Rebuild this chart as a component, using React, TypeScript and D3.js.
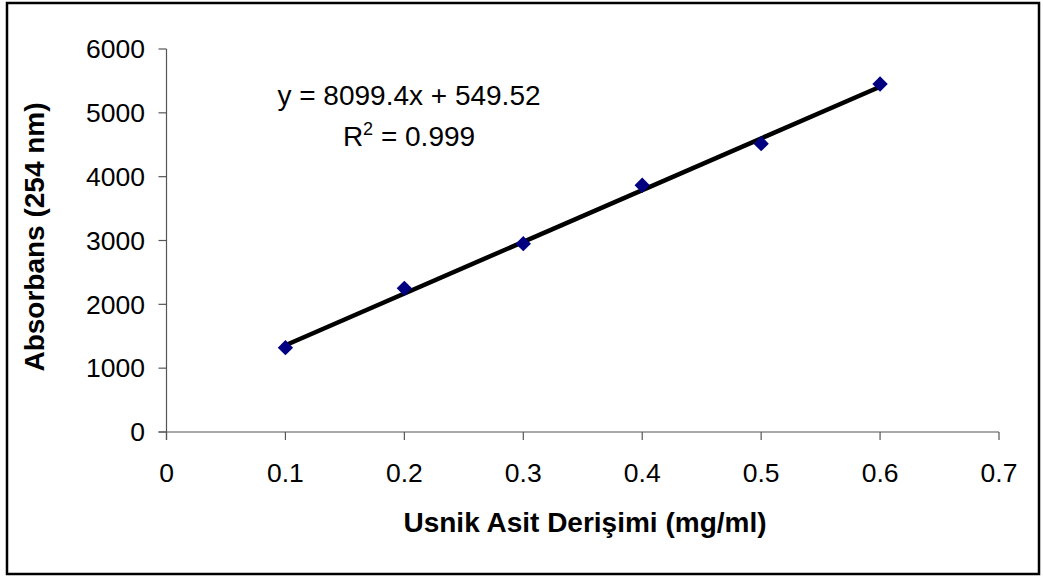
import React from "react";
import * as d3 from "d3";

const concentrations = [0.1, 0.2, 0.3, 0.4, 0.5, 0.6];
const absorbances = [1321, 2251, 2950, 3865, 4517, 5452];
const xTicks = [0, 0.1, 0.2, 0.3, 0.4, 0.5, 0.6, 0.7];
const yTicks = [0, 1000, 2000, 3000, 4000, 5000, 6000];
const slope = 8099.4;
const intercept = 549.52;
const equationLabel = "y = 8099.4x + 549.52";
const r2Value = "0.999";
const xTitle = "Usnik Asit Derişimi (mg/ml)";
const yTitle = "Absorbans (254 nm)";

const W = 1043;
const H = 578;
const FONT = "'Liberation Sans', Arial, Helvetica, sans-serif";

export default function App() {
  const x = d3.scaleLinear().domain([0, 0.7]).range([166.5, 999]);
  const y = d3.scaleLinear().domain([0, 6000]).range([432, 49]);

  const fitX = [concentrations[0], concentrations[concentrations.length - 1]];
  const fitLine = d3
    .line<number>()
    .x((d) => x(d))
    .y((d) => y(slope * d + intercept));

  const diamond = d3.symbol().type(d3.symbolDiamond2).size(150)();

  return (
    <svg
      width={W}
      height={H}
      style={{ position: "absolute", left: 0, top: 0, background: "#fff" }}
      fontFamily={FONT}
    >
      <rect x={7} y={3} width={1032} height={571} fill="#fff" stroke="#000" strokeWidth={2.5} />

      {/* axes */}
      <line x1={x(0)} x2={x(0)} y1={y(6000)} y2={y(0) + 8} stroke="#555" strokeWidth={1.2} />
      <line x1={x(0) - 8} x2={x(0.7)} y1={y(0)} y2={y(0)} stroke="#555" strokeWidth={1.2} />

      {yTicks.map((t) => (
        <g key={"y" + t}>
          <line x1={x(0) - 8} x2={x(0)} y1={y(t)} y2={y(t)} stroke="#555" strokeWidth={1.2} />
          <text x={145} y={y(t)} dy="0.35em" textAnchor="end" fontSize={26.5} fill="#000">
            {t}
          </text>
        </g>
      ))}

      {xTicks.map((t) => (
        <g key={"x" + t}>
          <line x1={x(t)} x2={x(t)} y1={y(0)} y2={y(0) + 8} stroke="#555" strokeWidth={1.2} />
          <text x={x(t)} y={482} textAnchor="middle" fontSize={26.5} fill="#000">
            {t === 0 ? "0" : d3.format(".1f")(t)}
          </text>
        </g>
      ))}

      {/* linear trend line */}
      <path d={fitLine(fitX) ?? ""} fill="none" stroke="#000" strokeWidth={4.5} />

      {/* measured points */}
      {concentrations.map((c, i) => (
        <path
          key={"p" + i}
          d={diamond ?? ""}
          transform={`translate(${x(c)},${y(absorbances[i])})`}
          fill="#000080"
        />
      ))}

      <text x={409} y={105} textAnchor="middle" fontSize={28} fill="#000">
        {equationLabel}
      </text>
      <text x={409} y={146} textAnchor="middle" fontSize={28} fill="#000">
        R<tspan dy={-11} fontSize={18}>2</tspan>
        <tspan dy={11}>{" = " + r2Value}</tspan>
      </text>

      <text x={585} y={532} textAnchor="middle" fontSize={28} fontWeight="bold" fill="#000">
        {xTitle}
      </text>
      <text
        transform={`translate(44,237) rotate(-90)`}
        textAnchor="middle"
        fontSize={28}
        fontWeight="bold"
        fill="#000"
      >
        {yTitle}
      </text>
    </svg>
  );
}
